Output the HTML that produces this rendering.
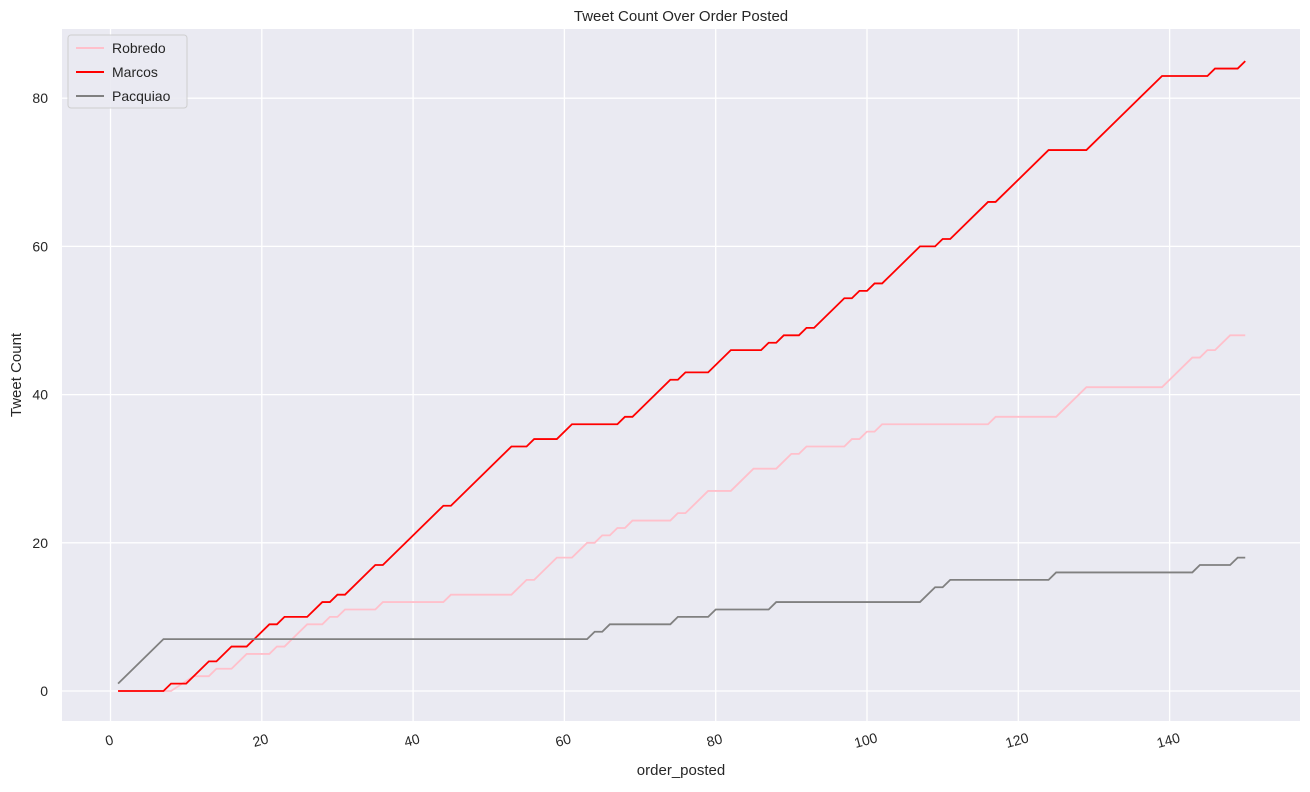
<!DOCTYPE html>
<html><head><meta charset="utf-8"><style>
body{margin:0;background:#fff;font-family:"Liberation Sans","DejaVu Sans",sans-serif;}
svg text{font-family:"Liberation Sans","DejaVu Sans",sans-serif;fill:#262626;}
</style></head><body>
<svg id="chart" width="1310" height="787" viewBox="0 0 1310 787">
<rect x="0" y="0" width="1310" height="787" fill="#fff"/>
<rect x="62" y="29" width="1238" height="692" fill="#eaeaf2"/>
<g id="grid"></g><g id="lines"></g><g id="ticks"></g>
<text x="681" y="21" text-anchor="middle" font-size="15">Tweet Count Over Order Posted</text>
<text x="681" y="775" text-anchor="middle" font-size="15">order_posted</text>
<text x="21" y="375" text-anchor="middle" font-size="15" transform="rotate(-90 21 375)">Tweet Count</text>
<g>
<rect x="68" y="35" width="119" height="73" rx="3" fill="#eaeaf2" stroke="#cccccc" opacity="0.9"/>
<line x1="76" y1="48" x2="104" y2="48" stroke="pink" stroke-width="2"/>
<text x="112" y="53" font-size="14">Robredo</text>
<line x1="76" y1="72" x2="104" y2="72" stroke="red" stroke-width="2"/>
<text x="112" y="77" font-size="14">Marcos</text>
<line x1="76" y1="96" x2="104" y2="96" stroke="gray" stroke-width="2"/>
<text x="112" y="101" font-size="14">Pacquiao</text>
</g>
</svg>
<script>
const xTicks=[0,20,40,60,80,100,120,140];
const yTicks=[0,20,40,60,80];
const marcosX=[1,7,8,10,13,14,16,18,21,22,23,26,28,29,30,31,35,36,44,45,53,55,56,59,61,67,68,69,74,75,76,79,82,86,87,88,89,91,92,93,97,98,99,100,101,102,107,109,110,111,116,117,124,129,139,145,146,149,150];
const marcosY=[0,0,1,1,4,4,6,6,9,9,10,10,12,12,13,13,17,17,25,25,33,33,34,34,36,36,37,37,42,42,43,43,46,46,47,47,48,48,49,49,53,53,54,54,55,55,60,60,61,61,66,66,73,73,83,83,84,84,85];
const robredoX=[1,8,11,13,14,16,18,21,22,23,26,28,29,30,31,35,36,44,45,53,55,56,59,61,63,64,65,66,67,68,69,74,75,76,79,82,85,88,90,91,92,97,98,99,100,101,102,116,117,125,129,139,143,144,145,146,148,150];
const robredoY=[0,0,2,2,3,3,5,5,6,6,9,9,10,10,11,11,12,12,13,13,15,15,18,18,20,20,21,21,22,22,23,23,24,24,27,27,30,30,32,32,33,33,34,34,35,35,36,36,37,37,41,41,45,45,46,46,48,48];
const pacX=[1,7,63,64,65,66,74,75,79,80,87,88,107,109,110,111,124,125,143,144,148,149,150];
const pacY=[1,7,7,8,8,9,9,10,10,11,11,12,12,14,14,15,15,16,16,17,17,18,18];
const X=v=>110.5+v*7.565, Y=v=>691-v*7.41;
const NS='http://www.w3.org/2000/svg';
const grid=document.getElementById('grid'),ticks=document.getElementById('ticks'),lines=document.getElementById('lines');
xTicks.forEach(t=>{
 const l=document.createElementNS(NS,'line');
 
 
 l.setAttribute('x1',X(t));l.setAttribute('x2',X(t));l.setAttribute('y1',29);l.setAttribute('y2',721);
 l.setAttribute('stroke','#fff');l.setAttribute('stroke-width','1.3');grid.appendChild(l);
 const tx=document.createElementNS(NS,'text');
 
 
 const x=X(t),y=745;
 tx.setAttribute('x',x);tx.setAttribute('y',y);tx.setAttribute('text-anchor','middle');tx.setAttribute('font-size','14');
 tx.setAttribute('transform',`rotate(-15 ${x} ${y})`);tx.textContent=t;ticks.appendChild(tx);
});
yTicks.forEach(t=>{
 const l=document.createElementNS(NS,'line');
 
 
 l.setAttribute('x1',62);l.setAttribute('x2',1300);l.setAttribute('y1',Y(t));l.setAttribute('y2',Y(t));
 l.setAttribute('stroke','#fff');l.setAttribute('stroke-width','1.3');grid.appendChild(l);
 const tx=document.createElementNS(NS,'text');
 
 
 tx.setAttribute('x',48);tx.setAttribute('y',Y(t)+5);tx.setAttribute('text-anchor','end');tx.setAttribute('font-size','14');
 tx.textContent=t;ticks.appendChild(tx);
});
function draw(xs,ys,color,name){
 const p=document.createElementNS(NS,'polyline');
 
 
 p.setAttribute('points',xs.map((x,i)=>X(x)+','+Y(ys[i])).join(' '));
 p.setAttribute('fill','none');p.setAttribute('stroke',color);p.setAttribute('stroke-width','1.8');
 lines.appendChild(p);
}
draw(robredoX,robredoY,'pink','robredo-line');
draw(marcosX,marcosY,'red','marcos-line');
draw(pacX,pacY,'gray','pacquiao-line');
</script>
</body></html>
